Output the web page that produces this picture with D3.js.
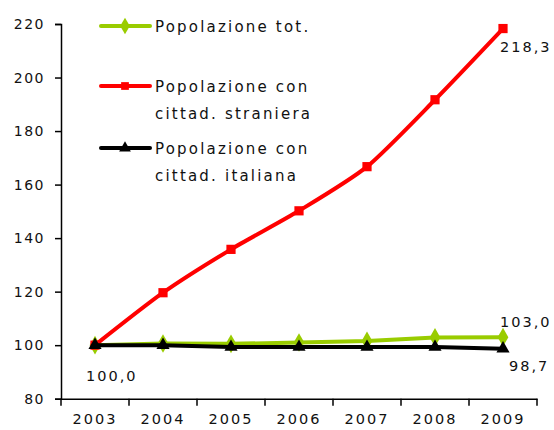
<!DOCTYPE html>
<html><head><meta charset="utf-8">
<script src="https://cdn.jsdelivr.net/npm/d3@7/dist/d3.min.js"></script>
<style>body{margin:0;background:#fff}svg{display:block}text{font-family:"DejaVu Sans",sans-serif;fill:#111}</style>
</head><body><svg id="c" width="554" height="430"></svg>
<script>
const years = ["2003","2004","2005","2006","2007","2008","2009"];
const totale = [100.0,100.6,100.5,101.0,101.6,102.9,103.0];
const straniera = [100.0,119.6,135.8,150.2,166.7,191.7,218.3];
const italiana = [100.0,100.0,99.3,99.3,99.3,99.3,98.7];
const yTicks = [80,100,120,140,160,180,200,220];
const seriesNames = [["Popolazione tot."],["Popolazione con","cittad. straniera"],["Popolazione con","cittad. italiana"]];

const svg = d3.select("#c");
const x = d3.scaleBand().domain(years).range([61,537]);
const y = d3.scaleLinear().domain([80,220]).range([398.7,24]);

svg.append("g").attr("transform","translate(61,0)")
  .call(d3.axisLeft(y).tickValues(yTicks).tickSize(6).tickPadding(10))
  .call(g=>{g.select(".domain").attr("stroke","#000").attr("stroke-width",1.5);
    g.selectAll(".tick line").attr("stroke","#000").attr("stroke-width",1.5);
    g.selectAll("text").style("font-size","14px").style("letter-spacing","1.5px").attr("fill","#111");});

const xa = svg.append("g").attr("transform","translate(0,398.7)")
  .call(d3.axisBottom(x).tickSize(0).tickPadding(15))
  .call(g=>{g.select(".domain").attr("stroke","#000").attr("stroke-width",1.5);
    g.selectAll("text").style("font-size","14.5px").style("letter-spacing","2px").attr("fill","#111");});
xa.selectAll(".bound").data(years.concat(["end"])).enter().append("line")
  .attr("x1",(d,i)=>61+i*x.bandwidth()).attr("x2",(d,i)=>61+i*x.bandwidth())
  .attr("y1",0).attr("y2",7).attr("stroke","#000").attr("stroke-width",1.5);

const cx = d=>x(d)+x.bandwidth()/2;
const line = d3.line().x((d,i)=>cx(years[i])).y(d=>y(d));

function drawSeries(vals,color,sym,size,curve){
  svg.append("path").datum(vals).attr("fill","none").attr("stroke",color).attr("stroke-width",4)
    .attr("stroke-linejoin","round").attr("d",line.curve(curve)(vals));
  svg.selectAll(null).data(vals).enter().append("path")
    .attr("transform",(d,i)=>`translate(${cx(years[i])},${y(d)})`)
    .attr("d",d3.symbol().type(sym).size(size)()).attr("fill",color);
}
drawSeries(totale,"#99cc00",d3.symbolDiamond,100,d3.curveLinear);
drawSeries(straniera,"#ff0000",d3.symbolSquare,85,d3.curveCardinal.tension(0.3));
drawSeries(italiana,"#000000",d3.symbolTriangle,75,d3.curveLinear);

const lbl = (t,xx,yy)=>svg.append("text").attr("x",xx).attr("y",yy).text(t).style("font-size","14.5px").style("letter-spacing","2px");
lbl("218,3",500,52);
lbl("103,0",500,327);
lbl("98,7",509,371);
lbl("100,0",86,381);

const legY = [26,86,148];
const legC = ["#99cc00","#ff0000","#000000"];
const legS = [d3.symbolDiamond,d3.symbolSquare,d3.symbolTriangle];
legY.forEach((ly,i)=>{
  svg.append("line").attr("x1",101).attr("x2",150).attr("y1",ly).attr("y2",ly).attr("stroke",legC[i]).attr("stroke-width",4).attr("stroke-linecap","round");
  svg.append("path").attr("transform",`translate(125,${ly})`).attr("d",d3.symbol().type(legS[i]).size(i===0?80:60)()).attr("fill",legC[i]);
  seriesNames[i].forEach((t,j)=>{
    svg.append("text").attr("x",155).attr("y",ly+6+j*27).text(t).style("font-size","15px").style("letter-spacing","2.2px");
  });
});
</script></body></html>
